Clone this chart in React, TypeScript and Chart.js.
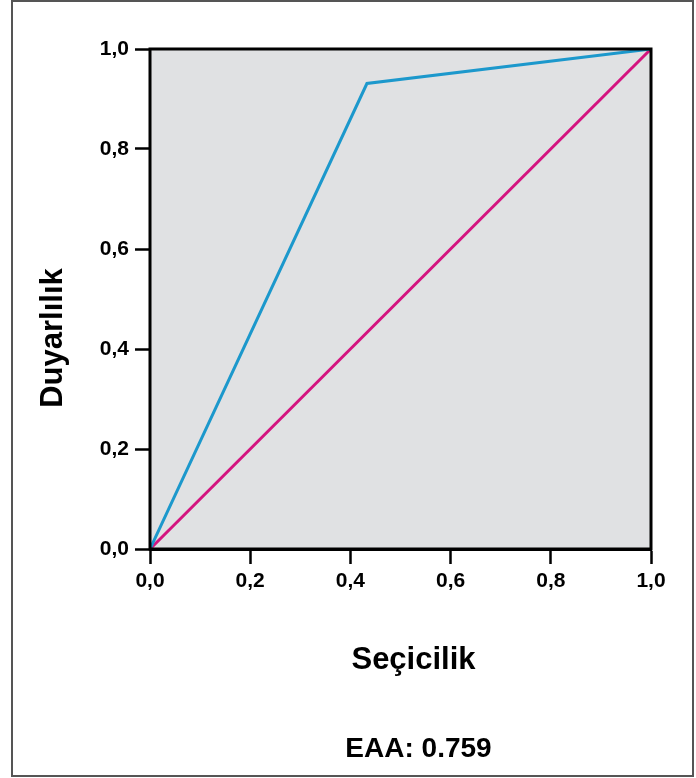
import React, { useEffect, useRef } from "react";
import { Chart, registerables } from "chart.js";

Chart.register(...registerables);

// ROC curve (1 - specificity on x, sensitivity on y)
const rocX = [0, 0.433, 1];
const rocY = [0, 0.931, 1];
const refX = [0, 1];
const refY = [0, 1];
const tickValues = [0, 0.2, 0.4, 0.6, 0.8, 1.0];
const xTitle = "Seçicilik";
const yTitle = "Duyarlılık";
const aucLabel = "EAA: 0.759";

const FONT = "'Liberation Sans', Arial, Helvetica, sans-serif";

const fmt = (v: number) => v.toFixed(1).replace(".", ",");

export default function App() {
  const canvasRef = useRef<HTMLCanvasElement | null>(null);

  useEffect(() => {
    const canvas = canvasRef.current;
    if (!canvas) return;

    const framePlugin = {
      id: "framePlugin",
      beforeDatasetsDraw(chart: any) {
        const { ctx, chartArea } = chart;
        ctx.save();
        ctx.fillStyle = "#e0e1e3";
        ctx.fillRect(chartArea.left, chartArea.top, chartArea.right - chartArea.left, chartArea.bottom - chartArea.top);
        ctx.restore();
      },
      afterDatasetsDraw(chart: any) {
        const { ctx, chartArea } = chart;
        ctx.save();
        ctx.strokeStyle = "#000";
        ctx.lineWidth = 3;
        ctx.strokeRect(chartArea.left, chartArea.top, chartArea.right - chartArea.left, chartArea.bottom - chartArea.top);
        ctx.restore();
      },
      afterDraw(chart: any) {
        const { ctx } = chart;
        ctx.save();
        ctx.fillStyle = "#000";
        ctx.textAlign = "center";
        ctx.textBaseline = "alphabetic";
        ctx.font = `bold 31px ${FONT}`;
        ctx.fillText(xTitle, 413.5, 669);
        ctx.font = `bold 28px ${FONT}`;
        ctx.fillText(aucLabel, 418.5, 757);
        ctx.translate(62, 338);
        ctx.rotate(-Math.PI / 2);
        ctx.font = `bold 31px ${FONT}`;
        ctx.fillText(yTitle, 0, 0);
        ctx.restore();
      },
    };

    const chart = new Chart(canvas, {
      type: "scatter",
      data: {
        datasets: [
          {
            label: "ROC",
            data: rocX.map((x, i) => ({ x, y: rocY[i] })),
            showLine: true,
            borderColor: "#1c98cc",
            borderWidth: 3,
            pointRadius: 0,
            fill: false,
          },
          {
            label: "Referans",
            data: refX.map((x, i) => ({ x, y: refY[i] })),
            showLine: true,
            borderColor: "#d4147f",
            borderWidth: 3,
            pointRadius: 0,
            fill: false,
          },
        ],
      },
      options: {
        animation: false,
        responsive: false,
        devicePixelRatio: 1,
        layout: { padding: { left: 0, right: 45, top: 49, bottom: 0 } },
        plugins: {
          legend: { display: false },
          tooltip: { enabled: false },
          title: { display: false },
        },
        scales: {
          x: {
            type: "linear",
            min: 0,
            max: 1,
            afterBuildTicks: (scale: any) => {
              scale.ticks = tickValues.map((v) => ({ value: v }));
            },
            afterFit: (scale: any) => {
              scale.height = 229;
            },
            ticks: {
              color: "#000",
              font: { family: FONT, size: 21, weight: "bold" },
              padding: 5,
              maxRotation: 0,
              callback: (v: any) => fmt(Number(v)),
            },
            grid: {
              display: true,
              drawOnChartArea: false,
              drawTicks: true,
              tickLength: 15,
              tickWidth: 2.5,
              tickColor: "#000",
            },
            border: { display: true, color: "#000", width: 3 },
          },
          y: {
            type: "linear",
            min: 0,
            max: 1,
            afterBuildTicks: (scale: any) => {
              scale.ticks = tickValues.map((v) => ({ value: v }));
            },
            afterFit: (scale: any) => {
              scale.width = 150;
            },
            ticks: {
              color: "#000",
              font: { family: FONT, size: 21, weight: "bold" },
              padding: 6,
              callback: (v: any) => fmt(Number(v)),
            },
            grid: {
              display: true,
              drawOnChartArea: false,
              drawTicks: true,
              tickLength: 15,
              tickWidth: 2.5,
              tickColor: "#000",
            },
            border: { display: true, color: "#000", width: 3 },
          },
        },
      },
      plugins: [framePlugin],
    } as any);

    return () => chart.destroy();
  }, []);

  return (
    <div style={{ position: "absolute", left: 0, top: 0, width: 696, height: 778, background: "#fff" }}>
      <div
        style={{
          position: "absolute",
          left: 11,
          top: 0,
          width: 683,
          height: 777,
          boxSizing: "border-box",
          border: "2px solid #555",
        }}
      />
      <canvas ref={canvasRef} width={696} height={778} style={{ position: "absolute", left: 0, top: 0 }} />
    </div>
  );
}
